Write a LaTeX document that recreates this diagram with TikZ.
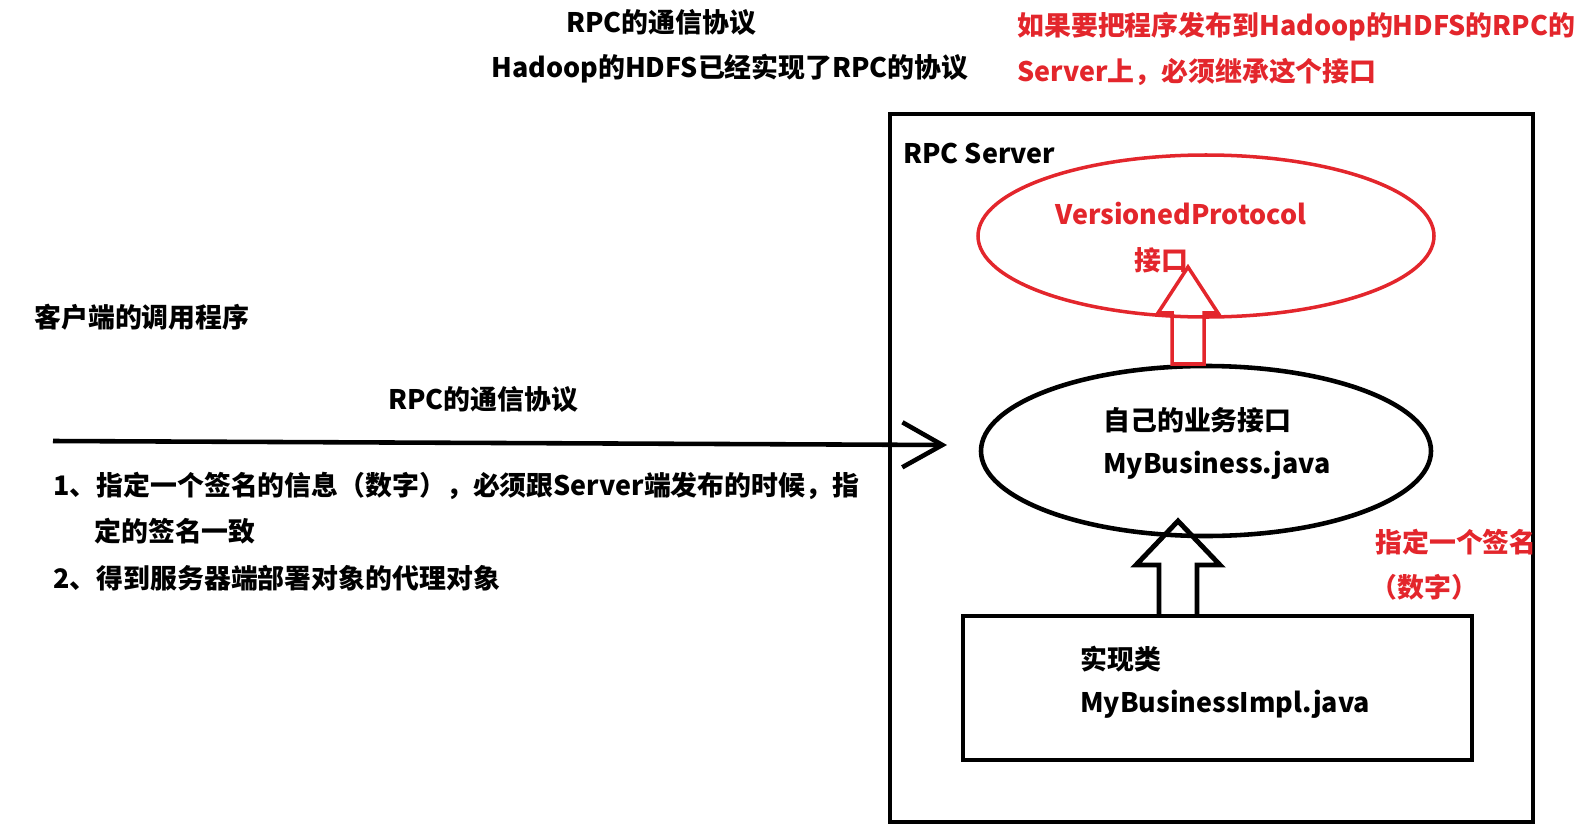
\documentclass[tikz,border=0pt]{standalone}
\usepackage{fontspec}
\setmainfont{Noto Sans CJK SC}
\usetikzlibrary{arrows.meta,positioning,shapes.geometric,calc}
\definecolor{sigred}{HTML}{E3262C}

\begin{document}
\begin{tikzpicture}[
x=0.2mm,y=-0.2mm,
every node/.style={font=\fontsize{15.3}{18}\selectfont\bfseries,inner sep=0pt},
lbl/.style={anchor=west},
redlbl/.style={anchor=west,text=sigred},
outer/.style={draw=black,line width=2.8pt},
oval/.style={draw=black,ellipse,line width=2.6pt},
redoval/.style={draw=sigred,ellipse,line width=2pt},
hollow/.style={draw=black,line width=2.8pt},
redhollow/.style={draw=sigred,line width=2pt},
call/.style={-{Straight Barb[length=8mm,width=9mm]},line width=2.6pt}
]
\useasboundingbox (0,0) rectangle (1595,825);

% titles
\node (title) at (661,22) {RPC的通信协议};
\node (hdfs) at (730,69) {Hadoop的HDFS已经实现了RPC的协议};
\node[redlbl] (note1) at (1017,27) {如果要把程序发布到Hadoop的HDFS的RPC的};
\node[redlbl] (note2) at (1017,72) {Server上，必须继承这个接口};

% server side
\node[outer,minimum width=128.6mm,minimum height=141.6mm] (server) at (1211.5,468) {};
\node[lbl] (srvname) at (903,153) {RPC Server};
\node[redoval,minimum width=91.2mm,minimum height=32.4mm] (iface) at (1206,236) {};
\node[lbl,text=sigred] (vp) at (1055,214) {VersionedProtocol};
\node[lbl,text=sigred] (vpcn) at (1134,260) {接口};
\node[oval,minimum width=90mm,minimum height=34mm] (biz) at (1206,451) {};
\node[lbl] (bizcn) at (1103,420) {自己的业务接口};
\node[lbl] (bizjava) at (1103,465) {MyBusiness.java};
\node[outer,minimum width=101.8mm,minimum height=28.8mm] (implbox) at (1217.5,688) {};
\node[lbl] (implcn) at (1080,659) {实现类};
\node[lbl] (impljava) at (1080,704) {MyBusinessImpl.java};
\node[redlbl] (sign) at (1375,542) {指定一个签名};
\node[redlbl] (signnum) at (1370,587) {（数字）};

\coordinate (ifacefoot) at (1188,364);
\coordinate (bizfoot) at (1178,616);
\draw[redhollow] ($(ifacefoot)+(-16,0)$) -- ++(0,-51) -- ++(-14,0) -- ++(30,-46)
  -- ++(30,46) -- ++(-14,0) -- ++(0,51) -- cycle;
\draw[hollow] ($(bizfoot)+(-19,0)$) -- ++(0,-51) -- ++(-23,0) -- ++(42,-44)
  -- ++(42,44) -- ++(-23,0) -- ++(0,51);

% client side
\node[lbl] (client) at (34,317) {客户端的调用程序};
\node (proto) at (483,399) {RPC的通信协议};
\coordinate (callstart) at (53,441);
\coordinate (callend) at (947,445);
\draw[call] (callstart) -- (callend);
\node[lbl] (step1) at (53,486) {1、指定一个签名的信息（数字），必须跟Server端发布的时候，指};
\node[lbl] (step1b) at (94,531) {定的签名一致};
\node[lbl] (step2) at (53,578) {2、得到服务器端部署对象的代理对象};
\end{tikzpicture}
\end{document}
